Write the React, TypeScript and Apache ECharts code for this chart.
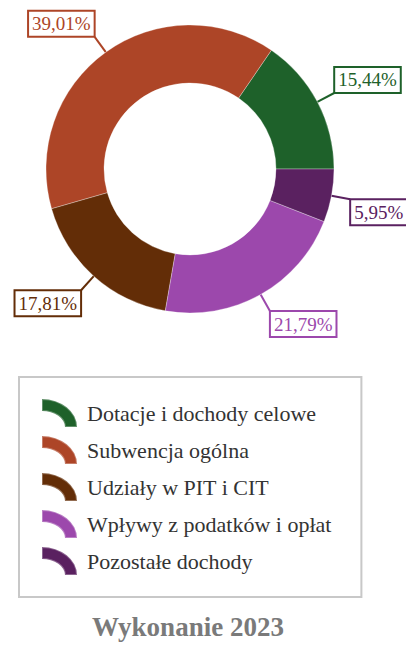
import React, { useEffect, useRef } from "react";
import * as echarts from "echarts";

const categories = [
  "Dotacje i dochody celowe",
  "Subwencja ogólna",
  "Udziały w PIT i CIT",
  "Wpływy z podatków i opłat",
  "Pozostałe dochody",
];
const values = [15.44, 39.01, 17.81, 21.79, 5.95];
const colors = ["#1e612a", "#ad4527", "#632d07", "#9c48ac", "#5a2160"];
const titleText = "Wykonanie 2023";

const fmt = (v: number) => v.toFixed(2).replace(".", ",") + "%";

export default function App() {
  const ref = useRef<HTMLDivElement>(null);
  useEffect(() => {
    if (!ref.current) return;
    const chart = echarts.init(ref.current, undefined, { renderer: "svg" });
    const serif = "Liberation Serif";
    chart.setOption({
      animation: false,
      legend: {
        orient: "vertical",
        left: 19,
        top: 377,
        itemWidth: 35,
        itemHeight: 28,
        itemGap: 7,
        padding: [21, 30, 21, 22],
        borderColor: "#c8c8c8",
        borderWidth: 2,
        icon: "path://M0,0 A35,28 0 0 1 35,28 L23,28 A23,16 0 0 0 0,12 Z",
        textStyle: {
          fontFamily: serif,
          fontSize: 22,
          lineHeight: 22,
          color: "#333333",
          padding: [0, 0, 0, 5],
        },
        data: categories,
      },
      graphic: [
        {
          type: "text",
          x: 188,
          y: 627,
          style: {
            text: titleText,
            fontFamily: serif,
            fontSize: 27,
            fontWeight: "bold",
            fill: "#7a7a7a",
            textAlign: "center",
            textVerticalAlign: "middle",
          },
        },
      ],
      series: [
        {
          type: "pie",
          center: [190, 169],
          radius: [86, 144],
          startAngle: 0,
          clockwise: false,
          avoidLabelOverlap: false,
          itemStyle: {
            borderColor: "rgba(255,255,255,0.3)",
            borderWidth: 1,
          },
          label: {
            show: true,
            position: "outside",
            formatter: (p: any) => fmt(p.value),
            fontFamily: serif,
            fontSize: 19,
            lineHeight: 20,
            backgroundColor: "#ffffff",
            borderWidth: 2,
            padding: [2, 3, 2, 3],
          },
          labelLine: {
            show: true,
            length: 19,
            length2: 0,
            lineStyle: { width: 2 },
          },
          labelLayout: (params: any) => {
            const pts = params.labelLinePoints;
            if (!pts) return {};
            const p0 = pts[0];
            const p1 = pts[1];
            const right = p1[0] >= p0[0];
            const down = p1[1] >= p0[1];
            return {
              x: right ? p1[0] + 1 : p1[0] - 1,
              y: down ? p1[1] + 1 : p1[1] - 1,
              align: right ? "left" : "right",
              verticalAlign: down ? "top" : "bottom",
              labelLinePoints: [p0, p1, p1],
            };
          },
          data: categories.map((name, i) => ({
            name,
            value: values[i],
            itemStyle: { color: colors[i] },
            label: { color: colors[i], borderColor: colors[i] },
            labelLine: { lineStyle: { color: colors[i] } },
          })),
        },
      ],
    });
    return () => chart.dispose();
  }, []);
  return (
    <div
      ref={ref}
      style={{ position: "absolute", left: 0, top: 0, width: 406, height: 646 }}
    />
  );
}
